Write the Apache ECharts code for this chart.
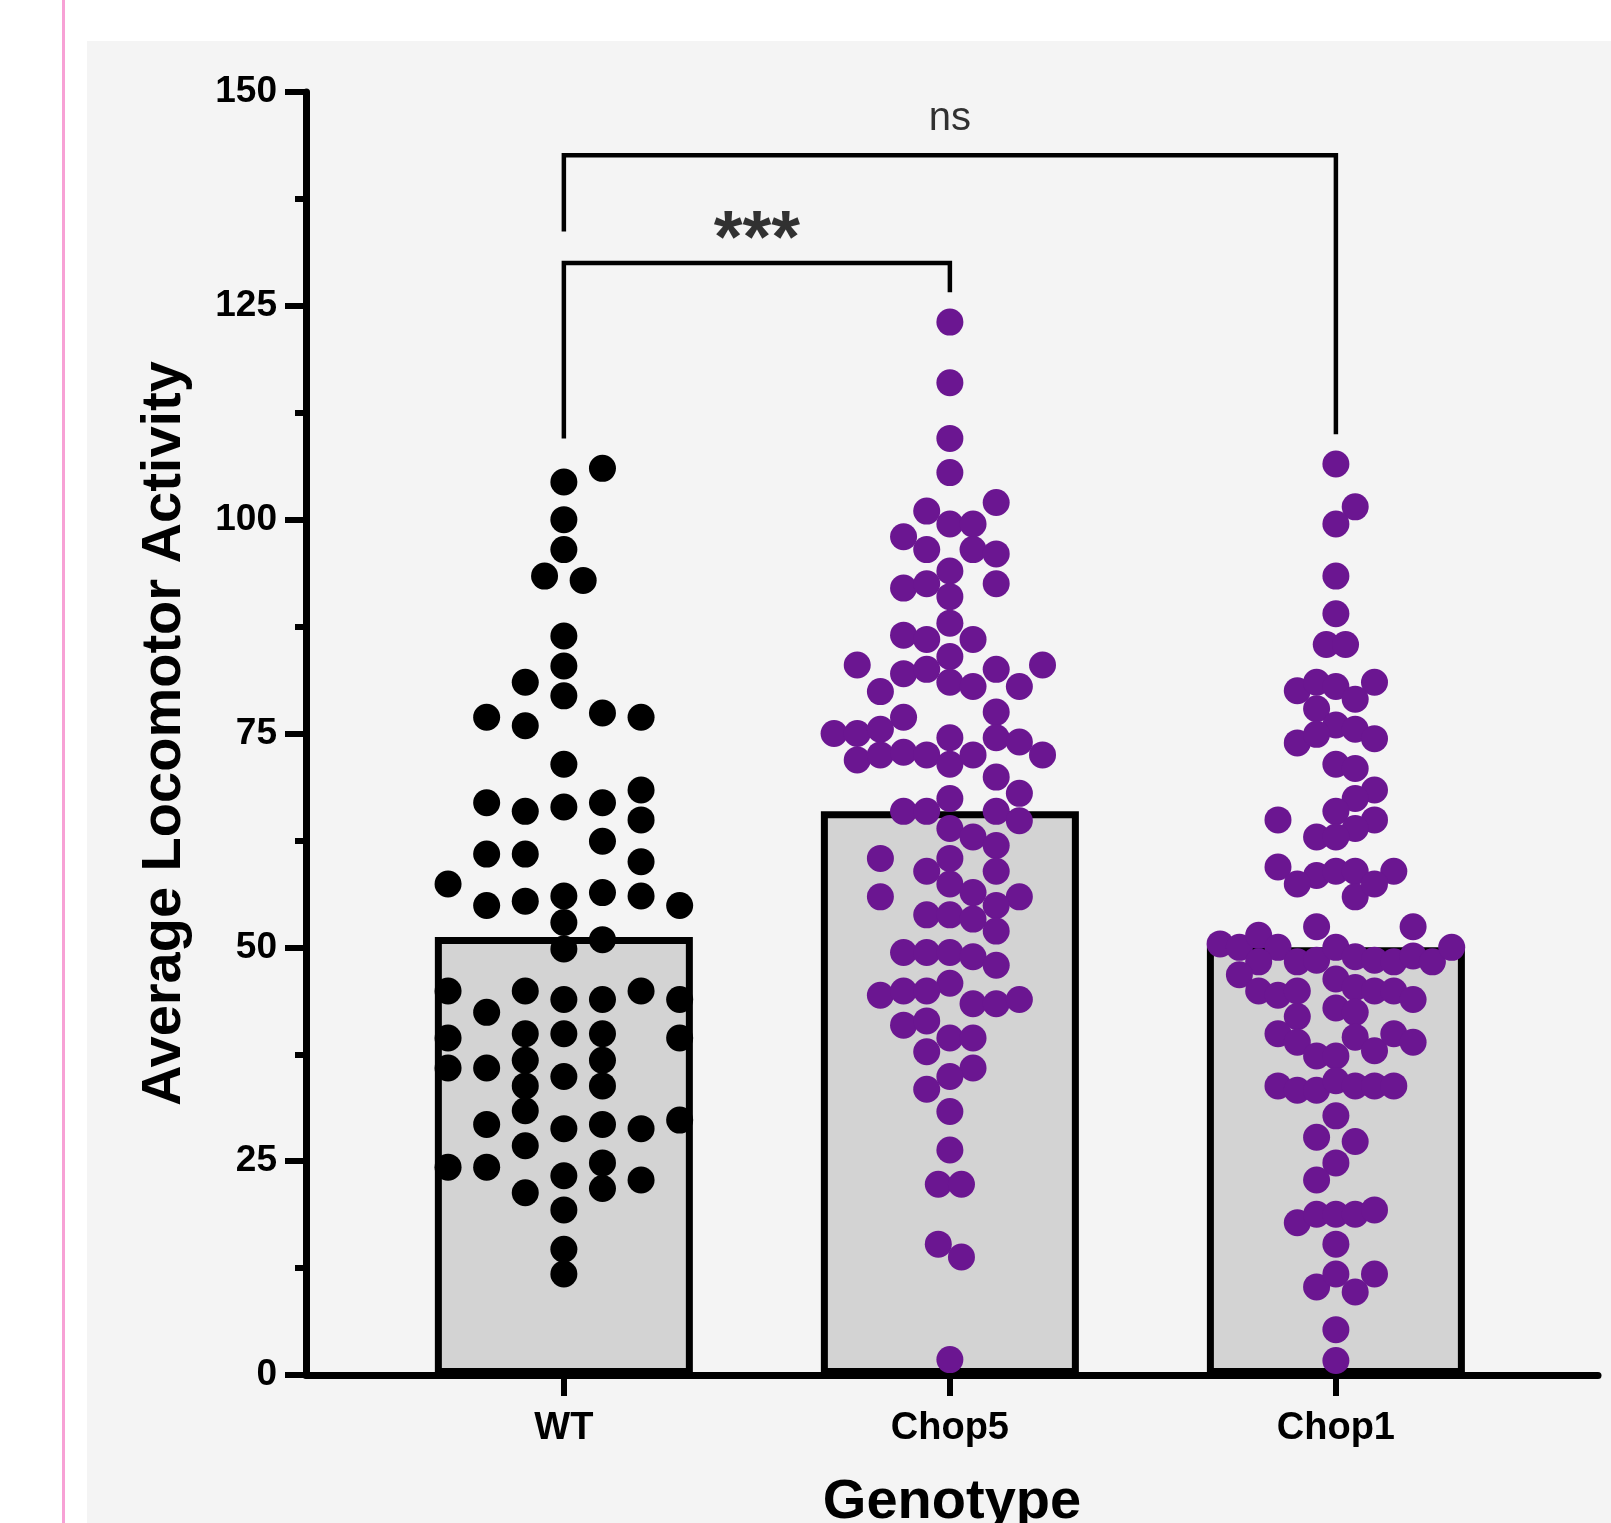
<!DOCTYPE html>
<html>
<head>
<meta charset="utf-8">
<title>Average Locomotor Activity by Genotype</title>
<script src="https://cdn.jsdelivr.net/npm/echarts@6/dist/echarts.min.js"></script>
<style>
  html, body { margin: 0; padding: 0; background: #ffffff; }
  #chart { width: 1611px; height: 1523px; }
</style>
</head>
<body>
<div id="chart"></div>
<script>
// -----------------------------------------------------------------------------
// Bar + beeswarm: mean per genotype with individual flies
// -----------------------------------------------------------------------------
const categories = ["WT", "Chop5", "Chop1"];
const barMeans = [51.2, 65.9, 50.0];

// individual values, and the swarm slot each dot sits in
const wtValues = [104.4, 106.0, 100.0, 96.5, 93.4, 92.9, 86.4, 82.9, 81.0, 79.4, 76.9, 75.9, 77.4, 76.9, 71.4,
  66.9, 65.9, 66.4, 66.9, 68.4, 64.9, 62.4, 60.9, 60.9, 60.0, 57.4, 54.9, 55.4, 56.0, 56.4, 56.0, 54.9, 52.9,
  49.8, 50.9, 44.9, 44.9, 44.9, 42.4, 43.9, 43.9, 43.9, 39.4, 39.9, 39.9, 39.9, 39.4, 35.9, 35.9, 36.8, 36.8,
  34.9, 33.8, 33.8, 30.9, 29.3, 28.8, 29.3, 28.8, 29.8, 26.8, 24.3, 24.3, 23.3, 24.8, 21.8, 22.8, 21.3, 19.3,
  14.7, 11.8];
const wtSlots = [0, 1, 0, 0, -0.5, 0.5, 0, 0, -1, 0, -2, -1, 1, 2, 0,
  -2, -1, 0, 1, 2, 2, 1, -2, -1, 2, -3, -2, -1, 0, 1, 2, 3, 0,
  0, 1, -3, -1, 2, -2, 0, 1, 3, -3, -1, 0, 1, 3, -3, -2, -1, 1,
  0, -1, 1, -1, -2, 0, 1, 2, 3, -1, -3, -2, 0, 1, 1, 2, -1, 0,
  0, 0];

const chop5Values = [123.1, 116.0, 109.5, 105.5, 101.0, 102.0, 99.5, 99.5, 98.0, 96.5, 96.5, 96.0, 94.0, 92.0,
  92.5, 92.5, 91.0, 87.9, 86.5, 86.0, 86.0, 84.0, 83.0, 83.0, 82.0, 82.5, 82.5, 81.0, 80.5, 79.9, 80.5, 76.9,
  77.5, 75.0, 75.0, 75.5, 74.5, 74.5, 74.0, 71.9, 72.5, 72.8, 72.5, 71.4, 72.5, 72.5, 69.9, 68.0, 67.4, 65.9,
  65.9, 65.9, 64.8, 63.9, 62.9, 61.9, 60.4, 60.4, 58.9, 58.9, 57.4, 56.4, 55.9, 55.9, 54.9, 53.8, 53.8, 53.3,
  51.9, 49.4, 49.4, 49.4, 48.9, 47.9, 45.8, 44.4, 44.9, 44.9, 43.4, 43.4, 43.9, 40.9, 41.4, 39.4, 39.4, 37.8,
  35.9, 34.9, 33.4, 30.8, 26.3, 22.3, 22.3, 15.3, 13.8, 1.8];
const chop5Slots = [0, 0, 0, 0, -1, 2, 0, 1, -2, -1, 1, 2, 0, -2,
  -1, 2, 0, 0, -2, -1, 1, 0, -4, 4, -2, -1, 2, 0, 1, -3, 3, -2,
  2, -5, -4, -3, 0, 2, 3, -4, -3, -2, -1, 0, 1, 4, 2, 3, 0, -2,
  -1, 2, 3, 0, 1, 2, -3, 0, -1, 2, 0, 1, -3, 3, 2, -1, 0, 1,
  2, -2, -1, 0, 1, 2, 0, -3, -2, -1, 1, 2, 3, -2, -1, 0, 1, -1,
  1, 0, -1, 0, 0, -0.5, 0.5, -0.5, 0.5, 0];

const chop1Values = [106.5, 101.5, 99.5, 93.4, 89.0, 85.4, 85.4, 80.0, 81.0, 80.5, 81.0, 79.0, 77.9, 76.0,
  75.5, 73.9, 74.9, 74.4, 71.4, 70.9, 68.4, 67.4, 65.9, 64.9, 64.9, 63.9, 62.9, 62.9, 59.4, 58.4, 58.9, 58.9,
  58.9, 57.4, 55.9, 57.4, 52.4, 52.4, 50.4, 50.0, 51.4, 50.0, 48.3, 48.3, 48.5, 50.0, 48.9, 48.5, 48.3, 49.0,
  48.3, 50.0, 46.8, 46.3, 44.9, 44.4, 44.9, 45.3, 44.9, 44.9, 43.9, 41.9, 42.9, 42.4, 39.9, 38.9, 37.3, 37.3,
  39.5, 37.9, 39.9, 38.9, 33.8, 33.3, 33.3, 34.4, 33.8, 33.8, 33.8, 30.3, 27.8, 27.3, 24.8, 22.8, 17.8, 18.8,
  18.8, 18.8, 19.3, 15.3, 10.3, 11.8, 9.7, 11.8, 5.3, 1.7];
const chop1Slots = [0, 1, 0, 0, 0, -0.5, 0.5, -2, -1, 0, 2, 1, -1, 0,
  1, -2, -1, 2, 0, 1, 2, 1, 0, -3, 2, 1, -1, 0, -3, -1, 0, 1,
  3, -2, 1, 2, -1, 4, -6, -5, -4, -3, -4, -2, -1, 0, 1, 2, 3, 4,
  5, 6, -5, 0, -4, -3, -2, 1, 2, 3, 4, -2, 0, 1, -3, -2, -1, 0,
  1, 2, 3, 4, -3, -2, -1, 0, 1, 2, 3, 0, -1, 1, 0, -1, -2, -1,
  0, 1, 2, 0, -1, 0, 1, 2, 0, 0];

// significance brackets
const bracketLabels = ["ns", "***"];
const bracketFrom = [0, 0];
const bracketTo = [2, 1];
const bracketTop = [142.6, 130.0];
const bracketFromLow = [133.7, 109.5];
const bracketToLow = [110.0, 126.6];
const bracketLabelY = [146.9, 132.5];

const FONT = "'Liberation Sans', Arial, Helvetica, sans-serif";
const PURPLE = "#6b1691";
const groupValues = [wtValues, chop5Values, chop1Values];
const groupSlots = [wtSlots, chop5Slots, chop1Slots];
const slotStep = [0.1, 0.06, 0.05];
const dotColors = ["#000000", PURPLE, PURPLE];

const chart = echarts.init(document.getElementById("chart"));

const dotSeries = categories.map((name, g) => ({
  type: "scatter",
  name,
  symbol: "circle",
  symbolSize: 27,
  z: 4,
  silent: true,
  itemStyle: { color: dotColors[g], opacity: 1 },
  data: groupValues[g].map((v, k) => [g + groupSlots[g][k] * slotStep[g], v])
}));

const bracketSeries = bracketLabels.map((lab, b) => ({
  type: "line",
  name: lab,
  symbol: "none",
  z: 5,
  silent: true,
  lineStyle: { color: "#000", width: 4.5, cap: "butt", join: "miter" },
  data: [
    [bracketFrom[b], bracketFromLow[b]],
    [bracketFrom[b], bracketTop[b]],
    [bracketTo[b], bracketTop[b]],
    [bracketTo[b], bracketToLow[b]]
  ]
}));

const labelSeries = {
  type: "scatter",
  symbolSize: 1,
  z: 6,
  silent: true,
  itemStyle: { color: "rgba(0,0,0,0)" },
  data: bracketLabels.map((lab, b) => ({
    value: [(bracketFrom[b] + bracketTo[b]) / 2, bracketLabelY[b]],
    label: {
      show: true,
      position: "inside",
      formatter: lab,
      color: "#000",
      fontFamily: FONT,
      fontSize: lab === "ns" ? 40 : 74,
      fontWeight: lab === "ns" ? "normal" : "bold",
      align: "center",
      verticalAlign: "middle"
    }
  }))
};

chart.setOption({
  animation: false,
  backgroundColor: "#ffffff",
  graphic: [
    { type: "rect", z: -10, silent: true, shape: { x: 87, y: 41, width: 1611 - 87, height: 1523 - 41 }, style: { fill: "#f4f4f4" } },
    { type: "rect", z: -9, silent: true, shape: { x: 62, y: 0, width: 3, height: 1523 }, style: { fill: "#f7a1d5" } }
  ],
  grid: { left: 306, right: 13, top: 92, bottom: 148, outerBoundsMode: "none" },
  xAxis: {
    type: "value",
    min: -0.668,
    max: 2.679,
    splitLine: { show: false },
    axisLine: { show: true, lineStyle: { color: "#000", width: 7 } },
    axisTick: { show: true, customValues: [0, 1, 2], length: 21, lineStyle: { color: "#000", width: 6 } },
    axisLabel: {
      show: true,
      customValues: [0, 1, 2],
      formatter: (v) => categories[Math.round(v)],
      color: "#000",
      fontFamily: FONT,
      fontWeight: "bold",
      fontSize: 38,
      margin: 35
    },
    name: "Genotype",
    nameLocation: "middle",
    nameGap: 100,
    nameTextStyle: { color: "#000", fontFamily: FONT, fontWeight: "bold", fontSize: 56 }
  },
  yAxis: {
    type: "value",
    min: 0,
    max: 150,
    interval: 25,
    splitLine: { show: false },
    minorSplitLine: { show: false },
    axisLine: { show: true, onZero: false, lineStyle: { color: "#000", width: 7 } },
    axisTick: { show: true, length: 21, lineStyle: { color: "#000", width: 6 } },
    minorTick: { show: true, splitNumber: 2, length: 11, lineStyle: { color: "#000", width: 6 } },
    axisLabel: { color: "#000", fontFamily: FONT, fontWeight: "bold", fontSize: 37, margin: 29 },
    name: "Average Locomotor Activity",
    nameLocation: "middle",
    nameGap: 113,
    nameTextStyle: { color: "#000", fontFamily: FONT, fontWeight: "bold", fontSize: 56 }
  },
  series: [
    {
      type: "bar",
      name: "mean",
      barWidth: 258,
      z: 2,
      silent: true,
      itemStyle: { color: "#d3d3d3", borderColor: "#000", borderWidth: 7 },
      data: barMeans.map((m, i) => [i, m])
    },
    ...dotSeries,
    ...bracketSeries,
    labelSeries
  ]
});
</script>
</body>
</html>
